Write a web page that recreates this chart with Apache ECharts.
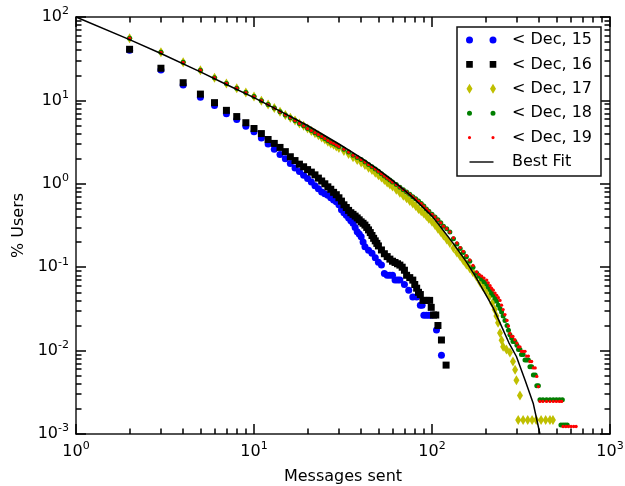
<!DOCTYPE html>
<html>
<head>
<meta charset="utf-8">
<script src="https://cdn.jsdelivr.net/npm/echarts@6.0.0/dist/echarts.min.js"></script>
<style>
  html, body { margin: 0; padding: 0; background: #fff; }
  #chart { width: 625px; height: 486px; }
</style>
</head>
<body>
<div id="chart"></div>
<script>
// values: [messages sent, % users]
const dec15 = [[2,40],[3,23.2],[4,15.3],[5,10.9],[6,8.7],[7,6.9],[8,5.9],[9,4.9],[10,4.2],[11,3.55],[12,3.0],[13,2.6],[14,2.25],[15,2.0],[16,1.75],[17,1.55],[18,1.4],[19,1.27],[20,1.16],[21,1.05],[22,0.95],[23,0.87],[24,0.8],[25,0.76],[26,0.73],[27,0.68],[28,0.64],[29,0.61],[30,0.56],[31,0.49],[32,0.45],[33,0.42],[34,0.39],[35,0.36],[36,0.336],[37,0.3],[38,0.267],[39,0.25],[40,0.232],[41,0.2],[42,0.176],[44,0.16],[46,0.147],[48,0.13],[50,0.115],[52,0.106],[54,0.084],[56,0.08],[58,0.08],[60,0.08],[62,0.07],[64,0.07],[66,0.07],[70,0.062],[74,0.053],[78,0.044],[82,0.044],[86,0.035],[88,0.035],[90,0.0265],[93,0.0265],[96,0.0265],[99,0.0265],[106,0.0177],[113,0.0088]];
const dec16 = [[2,41],[3,24.3],[4,16.3],[5,11.9],[6,9.4],[7,7.6],[8,6.4],[9,5.4],[10,4.6],[11,4.0],[12,3.4],[13,3.05],[14,2.73],[15,2.43],[16,2.11],[17,1.9],[18,1.72],[19,1.6],[20,1.48],[21,1.38],[22,1.28],[23,1.17],[24,1.08],[25,1.0],[26,0.92],[27,0.86],[28,0.79],[29,0.74],[30,0.68],[31,0.62],[32,0.56],[33,0.52],[34,0.48],[35,0.45],[36,0.43],[37,0.41],[38,0.39],[39,0.37],[40,0.35],[41,0.336],[42,0.32],[43,0.3],[44,0.28],[45,0.26],[46,0.24],[47,0.222],[48,0.207],[49,0.193],[50,0.18],[52,0.161],[54,0.145],[56,0.134],[58,0.125],[60,0.118],[62,0.114],[64,0.11],[66,0.106],[68,0.1],[70,0.092],[72,0.08],[75,0.075],[78,0.07],[80,0.062],[82,0.056],[84,0.05],[86,0.047],[89,0.04],[93,0.04],[97,0.04],[99,0.033],[102,0.0267],[105,0.0267],[108,0.02],[113,0.0134],[120,0.0067]];

// Dec 17/18/19 sit on top of each other for small counts
const upperHead = [[2,55.6],[3,37.7],[4,28.6],[5,23],[6,18.7],[7,16],[8,14],[9,12.4],[10,11.1],[11,9.9],[12,8.9],[13,8.1],[14,7.3],[15,6.7],[16,6.2],[17,5.75],[18,5.3],[19,4.95],[20,4.6]];
const dec17Rest = [[21,4.3],[22,4.05],[23,3.82],[24,3.6],[25,3.4],[26,3.2],[27,3.05],[28,2.93],[29,2.8],[30,2.68],[32,2.48],[34,2.27],[36,2.08],[38,1.93],[40,1.8],[42,1.68],[44,1.56],[46,1.46],[48,1.36],[50,1.27],[52,1.19],[54,1.11],[56,1.04],[58,0.98],[60,0.93],[63,0.85],[66,0.78],[69,0.72],[72,0.67],[75,0.62],[78,0.58],[81,0.54],[84,0.5],[87,0.47],[90,0.44],[93,0.41],[96,0.38],[100,0.35],[104,0.32],[108,0.29],[112,0.265],[116,0.24],[121,0.215],[126,0.195],[132,0.17],[138,0.15],[144,0.135],[150,0.12],[156,0.108],[163,0.097],[170,0.087],[178,0.077],[186,0.066],[194,0.058],[202,0.051],[211,0.045],[218,0.037],[225,0.031],[230,0.026],[235,0.0215],[241,0.0163],[246,0.0133],[251,0.0111],[262,0.0103],[274,0.0095],[285,0.0074],[293,0.0059],[298,0.0044],[312,0.0029],[305,0.00147],[325,0.00147],[345,0.00147],[365,0.00147],[385,0.00147],[410,0.00147],[435,0.00147],[460,0.00147],[478,0.00147]];
const upperMid = [[21,4.35],[22,4.1],[23,3.9],[24,3.7],[25,3.5],[26,3.3],[27,3.15],[28,3.05],[29,2.92],[30,2.8],[32,2.6],[34,2.4],[36,2.2],[38,2.07],[40,1.95],[42,1.82],[44,1.7],[46,1.6],[48,1.5],[50,1.41],[52,1.32],[54,1.24],[56,1.17],[58,1.11],[60,1.05],[63,0.98],[66,0.91],[69,0.85],[72,0.8],[75,0.75],[78,0.7],[81,0.66],[84,0.62],[87,0.58],[90,0.54],[93,0.5],[96,0.47],[100,0.43],[104,0.4],[108,0.37],[112,0.34],[116,0.31],[121,0.29],[126,0.265]];
const dec18Tail = [[132,0.22],[138,0.19],[144,0.168],[150,0.15],[156,0.133],[163,0.118],[170,0.1],[178,0.085],[184,0.078],[190,0.072],[196,0.067],[203,0.063],[207,0.058],[212,0.054],[216,0.049],[221,0.046],[226,0.042],[231,0.039],[236,0.035],[241,0.032],[246,0.029],[251,0.026],[257,0.023],[264,0.02],[269,0.0175],[274,0.0155],[280,0.0142],[285,0.0129],[292,0.0129],[300,0.0116],[306,0.0103],[312,0.0103],[318,0.009],[325,0.009],[333,0.0077],[340,0.0077],[348,0.0077],[355,0.0064],[363,0.0064],[371,0.0051],[380,0.0051],[388,0.0038],[396,0.0038],[404,0.00257],[420,0.00257],[440,0.00257],[460,0.00257],[480,0.00257],[500,0.00257],[520,0.00257],[540,0.00257],[530,0.00128],[545,0.00128],[560,0.00128],[575,0.00128]];
const dec19Tail = [[132,0.225],[138,0.195],[144,0.172],[150,0.155],[156,0.138],[163,0.122],[170,0.105],[178,0.088],[184,0.082],[190,0.078],[196,0.074],[203,0.07],[207,0.065],[212,0.06],[216,0.056],[221,0.053],[226,0.049],[231,0.046],[236,0.043],[241,0.04],[246,0.035],[251,0.031],[257,0.027],[264,0.023],[269,0.0197],[274,0.0161],[280,0.0148],[285,0.0148],[292,0.0135],[300,0.0123],[306,0.0111],[312,0.0111],[318,0.0098],[325,0.0098],[333,0.0098],[340,0.0086],[348,0.0086],[355,0.0074],[363,0.0074],[371,0.0062],[380,0.0062],[388,0.0049],[396,0.0037],[404,0.00246],[420,0.00246],[440,0.00246],[460,0.00246],[480,0.00246],[500,0.00246],[520,0.00246],[535,0.00246],[545,0.00123],[565,0.00123],[585,0.00123],[605,0.00123],[625,0.00123],[645,0.00123]];
const bestFit = [[1,100],[2,53.5],[3,36.5],[5,22],[7,15.5],[10,10.8],[15,6.9],[20,5.0],[30,3.0],[40,2.05],[50,1.48],[60,1.1],[70,0.84],[80,0.65],[100,0.41],[111,0.31],[130,0.2],[156,0.116],[175,0.078],[194,0.053],[220,0.033],[241,0.0215],[270,0.0125],[298,0.0085],[335,0.0043],[371,0.0023],[404,0.001]];

const names = ["< Dec, 15", "< Dec, 16", "< Dec, 17", "< Dec, 18", "< Dec, 19", "Best Fit"];

const FONT = "DejaVu Sans";
const AXIS_COLOR = "#000";

function powLabel(v) {
  let e = Math.round(Math.log10(v));
  return "{b|10}{s|" + e + "}";
}

const labelRich = {
  b: { fontSize: 16, lineHeight: 22, fontFamily: FONT, color: "#000" },
  s: { fontSize: 11, lineHeight: 11, verticalAlign: "top", fontFamily: FONT, color: "#000" }
};

// every side of the frame gets major ticks at decades and minor ticks at 2..9
function logAxis(pos, extra) {
  return Object.assign({
    type: "log",
    position: pos,
    axisLine: { show: true, onZero: false, lineStyle: { color: "#1a1a1a", width: 1.5 } },
    axisTick: { show: true, inside: true, length: 10, lineStyle: { color: AXIS_COLOR, width: 1.5 } },
    minorTick: { show: true, splitNumber: 9, length: 5.5, lineStyle: { color: AXIS_COLOR, width: 1.5 } },
    splitLine: { show: false }
  }, extra);
}

// legend icons: two markers like matplotlib, box anchored to 42x16
const ANCHOR = "M0 0 M42 16 ";
const legendIcons = [
  ANCHOR + "M1 8 A3.5 3.5 0 1 0 8 8 A3.5 3.5 0 1 0 1 8 Z M24.5 8 A3.5 3.5 0 1 0 31.5 8 A3.5 3.5 0 1 0 24.5 8 Z",
  ANCHOR + "M1.2 4.7 L7.8 4.7 L7.8 11.3 L1.2 11.3 Z M24.7 4.7 L31.3 4.7 L31.3 11.3 L24.7 11.3 Z",
  ANCHOR + "M4.5 3 L7.5 8 L4.5 13 L1.5 8 Z M28 3 L31 8 L28 13 L25 8 Z",
  ANCHOR + "M2 8 A2.5 2.5 0 1 0 7 8 A2.5 2.5 0 1 0 2 8 Z M25.5 8 A2.5 2.5 0 1 0 30.5 8 A2.5 2.5 0 1 0 25.5 8 Z",
  ANCHOR + "M2.9 8 A1.6 1.6 0 1 0 6.1 8 A1.6 1.6 0 1 0 2.9 8 Z M26.4 8 A1.6 1.6 0 1 0 29.6 8 A1.6 1.6 0 1 0 26.4 8 Z",
  ANCHOR + "M4.5 7.3 L28.5 7.3 L28.5 8.7 L4.5 8.7 Z"
];

let chart = echarts.init(document.getElementById("chart"), null, { renderer: "canvas" });

let option = {
  animation: false,
  backgroundColor: "#fff",
  grid: { left: 76, right: 15, top: 17, bottom: 52, containLabel: false, outerBoundsMode: "none" },
  legend: {
    orient: "vertical",
    left: 457,
    top: 27,
    padding: [5, 9, 6, 8],
    itemGap: 8.4,
    itemWidth: 42,
    itemHeight: 16,
    borderColor: "#111",
    borderWidth: 1.5,
    backgroundColor: "#fff",
    selectedMode: false,
    textStyle: { fontFamily: FONT, fontSize: 16, lineHeight: 16, color: "#000" },
    data: names.map(function (n, i) {
      return { name: n, icon: "path://" + legendIcons[i] };
    })
  },
  xAxis: [
    logAxis("bottom", {
      min: 1, max: 1000,
      name: "Messages sent",
      nameLocation: "middle",
      nameGap: 35,
      nameTextStyle: { fontFamily: FONT, fontSize: 16, color: "#000" },
      axisLabel: { show: true, margin: 7, formatter: powLabel, rich: labelRich }
    }),
    logAxis("top", { min: 1, max: 1000, axisLabel: { show: false } })
  ],
  yAxis: [
    logAxis("left", {
      min: 0.001, max: 100,
      name: "% Users",
      nameLocation: "middle",
      nameGap: 44,
      nameTextStyle: { fontFamily: FONT, fontSize: 16, color: "#000" },
      axisLabel: { show: true, margin: 7, formatter: powLabel, rich: labelRich }
    }),
    logAxis("right", { min: 0.001, max: 100, axisLabel: { show: false } })
  ],
  series: [
    {
      name: names[0], type: "scatter", data: dec15,
      symbol: "circle", symbolSize: 7,
      itemStyle: { color: "#0000ff", opacity: 1 }
    },
    {
      name: names[1], type: "scatter", data: dec16,
      symbol: "rect", symbolSize: 7,
      itemStyle: { color: "#000000", opacity: 1 }
    },
    {
      name: names[2], type: "scatter", data: upperHead.concat(dec17Rest),
      symbol: "diamond", symbolSize: [6, 10],
      itemStyle: { color: "#bfbf00", opacity: 1 }
    },
    {
      name: names[3], type: "scatter", data: upperHead.concat(upperMid, dec18Tail),
      symbol: "circle", symbolSize: 5,
      itemStyle: { color: "#007f00", opacity: 1 }
    },
    {
      name: names[4], type: "scatter", data: upperHead.concat(upperMid, dec19Tail),
      symbol: "circle", symbolSize: 3.3,
      itemStyle: { color: "#ff0000", opacity: 1 }
    },
    {
      name: names[5], type: "line", data: bestFit,
      symbol: "none", smooth: false,
      lineStyle: { color: "#000", width: 1.5 },
      itemStyle: { color: "#000" }
    }
  ]
};

chart.setOption(option);
</script>
</body>
</html>
